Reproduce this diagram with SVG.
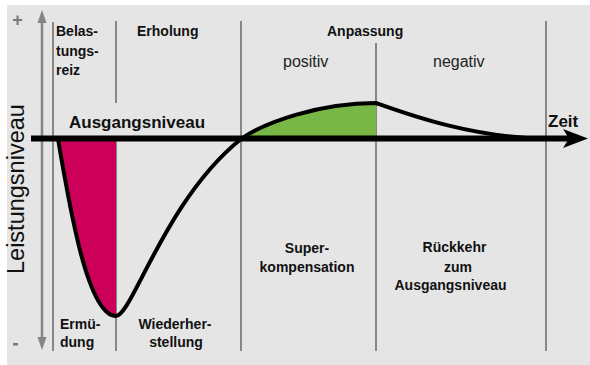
<svg xmlns="http://www.w3.org/2000/svg" width="590" height="365" viewBox="0 0 590 365">
<style>
.bg{fill:#e5e5e5}
.sep{stroke:#878787;stroke-width:2;fill:none}
.axis{stroke:#858585;stroke-width:2.5;fill:none}
.lbl{font-family:"Liberation Sans",Arial,sans-serif;font-weight:bold;font-size:14px;fill:#111}
.big{font-family:"Liberation Sans",Arial,sans-serif;font-weight:bold;font-size:17px;fill:#111}
.reg{font-family:"Liberation Sans",Arial,sans-serif;font-size:16px;fill:#222}
.curve{stroke:#000;stroke-width:4;fill:none;stroke-linejoin:round}
</style>
<rect width="590" height="365" fill="#ffffff"/>
<rect class="bg" x="7" y="5" width="583" height="360"/>
<g id="separators">
<line class="sep" x1="53" y1="22" x2="53" y2="351"/>
<line class="sep" x1="116" y1="21" x2="116" y2="103"/>
<line class="sep" x1="116" y1="139" x2="116" y2="351"/>
<line class="sep" x1="241" y1="21" x2="241" y2="351"/>
<line class="sep" x1="376" y1="43" x2="376" y2="351"/>
<line class="sep" x1="546" y1="21" x2="546" y2="351"/>
</g>
<g id="y-axis">
<line class="axis" x1="42" y1="20" x2="42" y2="340"/>
<polygon points="42,10 46.5,23 37.5,23" fill="#858585"/>
<polygon points="42,350 46.5,337 37.5,337" fill="#858585"/>
<text x="17.5" y="26" font-family="Liberation Sans,Arial,sans-serif" font-size="18" font-weight="bold" fill="#7a7a7a" text-anchor="middle">+</text>
<rect x="13" y="343" width="5" height="2.5" fill="#7a7a7a"/>
<text transform="translate(24,274) rotate(-90)" font-family="Liberation Sans,Arial,sans-serif" font-size="23.5" fill="#111">Leistungsniveau</text>
</g>
<g id="areas">
<path d="M58,139 C70,210 88,316 116,316 L116,139 Z" fill="#cc0058"/>
<path d="M241,139 C265,122 320,103 376,103 L376,139 Z" fill="#78b646"/>
</g>
<g id="connectors">
<path class="curve" d="M58,139 C70,210 88,316 116,316 C132,316 165,200 241,139 C265,122 320,103 376,103 C410,115 470,137 546,139"/>
<line x1="31" y1="138.5" x2="570" y2="138.5" stroke="#000" stroke-width="6"/>
<polygon points="588,138.5 563,129 569,138.5 563,148" fill="#000"/>
</g>
<g id="labels">
<text class="lbl" x="56" y="36">Belas-</text>
<text class="lbl" x="56" y="55.5">tungs-</text>
<text class="lbl" x="56" y="75">reiz</text>
<text class="lbl" x="137" y="36">Erholung</text>
<text class="lbl" x="327" y="36">Anpassung</text>
<text class="reg" x="283" y="67">positiv</text>
<text class="reg" x="433" y="67">negativ</text>
<text class="big" x="69" y="128">Ausgangsniveau</text>
<text class="big" x="548" y="127">Zeit</text>
<text class="lbl" x="307" y="253" text-anchor="middle">Super-</text>
<text class="lbl" x="307" y="272" text-anchor="middle">kompensation</text>
<text class="lbl" x="454.5" y="252" text-anchor="middle">Rückkehr</text>
<text class="lbl" x="458" y="272" text-anchor="middle">zum</text>
<text class="lbl" x="450.5" y="290" text-anchor="middle">Ausgangsniveau</text>
<text class="lbl" x="60" y="329">Ermü-</text>
<text class="lbl" x="60" y="347">dung</text>
<text class="lbl" x="175" y="329" text-anchor="middle">Wiederher-</text>
<text class="lbl" x="176" y="347" text-anchor="middle">stellung</text>
</g>
</svg>
